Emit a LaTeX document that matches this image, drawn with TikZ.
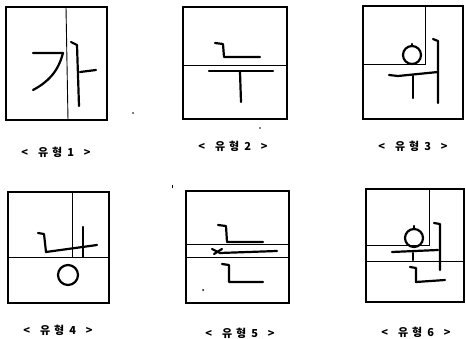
\documentclass[tikz,border=0pt]{standalone}
\usepackage{fontspec}
\newfontfamily\kr{Noto Sans CJK KR}
\newcommand{\typelabel}[1]{<\hspace{10pt}유\hspace{4pt}형\hspace{5pt}#1\hspace{10pt}>}
\begin{document}
\begin{tikzpicture}[x=1pt,y=-1pt,
  frame/.style={line width=1.2pt},
  inner/.style={line width=0.9pt},
  stroke/.style={line width=2.2pt,line cap=round,line join=round},
  lbl/.style={font=\kr\fontsize{11}{12}\selectfont\bfseries, inner sep=0pt}]
\useasboundingbox (0,0) rectangle (466,339);
% ---- Type 1
\draw[frame] (6,7) rectangle (107,120);
\draw[inner] (66,7) -- (68,120);
\draw[stroke] (33,53) -- (63,53) .. controls (58,72) and (48,82) .. (33,90);
\draw[stroke] (71,42) -- (77,45) -- (79,106);
\draw[stroke] (80,72) -- (96,70);
\fill (133,113) circle (0.8);
\node[lbl] (l1) at (56,152) {\typelabel{1}};
% ---- Type 2
\draw[frame] (183,7) rectangle (287,119);
\draw[inner] (183,65) -- (287,65);
\draw[stroke] (215,43) -- (223,44) -- (224,57) -- (260,57);
\draw[stroke] (209,71) -- (273,71);
\draw[stroke] (240,72) -- (241,102);
\fill (260,128) circle (0.8);
\node[lbl] (l2) at (233,146) {\typelabel{2}};
% ---- Type 3
\draw[frame] (363,6) rectangle (463,119);
\draw[inner] (425,6) -- (425,64) -- (363,64);
\draw[stroke] (412,55) circle (9);
\draw[stroke] (412,46) -- (412,44);
\draw[stroke] (389,75) -- (398,76) -- (438,72);
\draw[stroke] (413,76) -- (413,98);
\draw[stroke] (433,39) -- (438,41) -- (438,103);
\node[lbl] (l3) at (413,146) {\typelabel{3}};
% ---- Type 4
\draw[frame] (8,192) rectangle (109,303);
\draw[inner] (72,192) -- (72,257);
\draw[inner] (8,257) -- (109,257);
\draw[stroke] (38,233) -- (44,234) -- (46,252) -- (97,245);
\draw[stroke] (83,227) -- (83,257);
\draw[stroke] (68,275) circle (10);
\node[lbl] (l4) at (58,330) {\typelabel{4}};
% ---- Type 5
\draw[frame] (186,191) rectangle (289,303);
\draw[inner] (186,244) -- (289,244);
\draw[inner] (186,257) -- (289,257);
\draw[stroke] (218,225) -- (226,226) -- (227,242) -- (263,242);
\draw[stroke] (212,249) -- (220,253) -- (277,251);
\draw[stroke] (214,254) -- (222,249);
\draw[stroke] (222,264) -- (229,265) -- (229,282) -- (263,282);
\fill (203,290) circle (1);
\draw[line width=0.6pt] (172,185) -- (172,188);
\node[lbl] (l5) at (240,333) {\typelabel{5}};
% ---- Type 6
\draw[frame] (366,189) rectangle (464,302);
\draw[inner] (429,189) -- (429,245) -- (366,245);
\draw[inner] (366,261) -- (464,261);
\draw[stroke] (414,238) circle (9);
\draw[stroke] (414,229) -- (414,226);
\draw[stroke] (392,252) -- (438,250);
\draw[stroke] (413,253) -- (413,260);
\draw[stroke] (434,223) -- (440,224) -- (440,270);
\draw[stroke] (410,267) -- (416,268) -- (416,282) -- (445,280);
\node[lbl] (l6) at (416,332) {\typelabel{6}};
\end{tikzpicture}
\end{document}
